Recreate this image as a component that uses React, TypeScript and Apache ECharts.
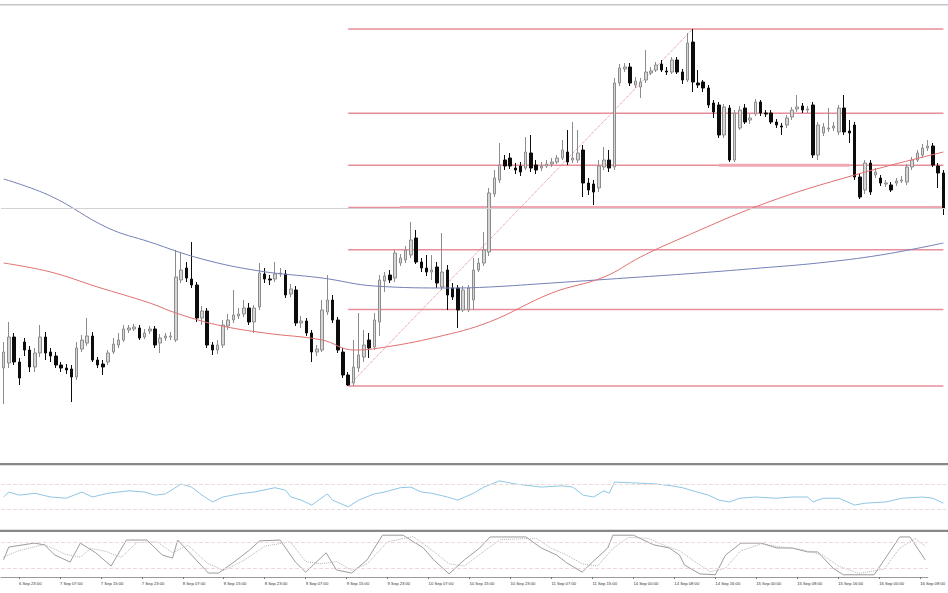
import React, { useEffect, useRef } from "react";
import * as echarts from "echarts";

// Hourly sessions shown on the chart: [day of Sep, first hour, last hour]
const sessions: number[][] = [
  [6, 20, 23], [7, 0, 23], [8, 0, 23], [9, 0, 23], [10, 0, 23], [11, 0, 22],
  [14, 0, 23], [15, 0, 23], [16, 0, 9],
];
const categories: string[] = [];
sessions.forEach(([d, a, b]) => {
  for (let h = a; h <= b; h++) categories.push(`${d} Sep ${String(h).padStart(2, "0")}:00`);
});

// [open, close, low, high]
const ohlc: number[][] = [
  [1.1132, 1.1148, 1.1096, 1.1158], [1.1137, 1.1163, 1.1132, 1.1178], [1.1163, 1.1138, 1.1135, 1.1167],
  [1.1138, 1.1122, 1.1115, 1.1142], [1.1158, 1.1150, 1.1144, 1.1162], [1.1150, 1.1133, 1.1128, 1.1154],
  [1.1133, 1.1147, 1.1128, 1.1152], [1.1147, 1.1163, 1.1143, 1.1175], [1.1163, 1.1147, 1.1140, 1.1168],
  [1.1148, 1.1144, 1.1138, 1.1152], [1.1144, 1.1135, 1.1132, 1.1148], [1.1135, 1.1132, 1.1128, 1.1138],
  [1.1132, 1.1130, 1.1126, 1.1136], [1.1131, 1.1123, 1.1098, 1.1135], [1.1123, 1.1152, 1.1120, 1.1158],
  [1.1151, 1.1160, 1.1148, 1.1165], [1.1157, 1.1164, 1.1154, 1.1182], [1.1164, 1.1140, 1.1138, 1.1168],
  [1.1140, 1.1135, 1.1132, 1.1143], [1.1136, 1.1133, 1.1125, 1.1140], [1.1138, 1.1147, 1.1135, 1.1150],
  [1.1148, 1.1156, 1.1146, 1.1162], [1.1155, 1.1160, 1.1152, 1.1167], [1.1160, 1.1171, 1.1158, 1.1175],
  [1.1170, 1.1172, 1.1167, 1.1175], [1.1171, 1.1173, 1.1169, 1.1176], [1.1172, 1.1162, 1.1160, 1.1175],
  [1.1163, 1.1167, 1.1161, 1.1171], [1.1169, 1.1171, 1.1166, 1.1174], [1.1171, 1.1155, 1.1152, 1.1174],
  [1.1157, 1.1162, 1.1147, 1.1166], [1.1162, 1.1164, 1.1159, 1.1167], [1.1163, 1.1164, 1.1160, 1.1168],
  [1.1160, 1.1223, 1.1158, 1.1250], [1.1220, 1.1230, 1.1217, 1.1248], [1.1232, 1.1222, 1.1218, 1.1238],
  [1.1221, 1.1215, 1.1212, 1.1258], [1.1215, 1.1182, 1.1178, 1.1218], [1.1182, 1.1189, 1.1175, 1.1194],
  [1.1189, 1.1155, 1.1152, 1.1192], [1.1155, 1.1150, 1.1145, 1.1158], [1.1150, 1.1155, 1.1146, 1.1160],
  [1.1155, 1.1175, 1.1152, 1.1180], [1.1174, 1.1180, 1.1170, 1.1186], [1.1180, 1.1185, 1.1177, 1.1210],
  [1.1184, 1.1186, 1.1181, 1.1192], [1.1186, 1.1192, 1.1183, 1.1200], [1.1192, 1.1178, 1.1175, 1.1197],
  [1.1178, 1.1192, 1.1167, 1.1195], [1.1193, 1.1227, 1.1190, 1.1237], [1.1226, 1.1221, 1.1217, 1.1232],
  [1.1221, 1.1220, 1.1215, 1.1225], [1.1221, 1.1226, 1.1218, 1.1238], [1.1226, 1.1227, 1.1223, 1.1232],
  [1.1226, 1.1205, 1.1202, 1.1230], [1.1206, 1.1211, 1.1203, 1.1216], [1.1210, 1.1177, 1.1174, 1.1214],
  [1.1177, 1.1179, 1.1172, 1.1184], [1.1179, 1.1167, 1.1164, 1.1182], [1.1167, 1.1148, 1.1138, 1.1170],
  [1.1148, 1.1151, 1.1144, 1.1155], [1.1150, 1.1190, 1.1148, 1.1200], [1.1188, 1.1200, 1.1185, 1.1225],
  [1.1200, 1.1180, 1.1177, 1.1205], [1.1180, 1.1150, 1.1147, 1.1183], [1.1148, 1.1125, 1.1122, 1.1152],
  [1.1125, 1.1115, 1.1114, 1.1128], [1.1117, 1.1133, 1.1114, 1.1160], [1.1132, 1.1145, 1.1128, 1.1187],
  [1.1143, 1.1155, 1.1138, 1.1170], [1.1160, 1.1152, 1.1142, 1.1167], [1.1153, 1.1180, 1.1150, 1.1187],
  [1.1178, 1.1220, 1.1164, 1.1225], [1.1219, 1.1224, 1.1208, 1.1228], [1.1225, 1.1220, 1.1217, 1.1230],
  [1.1222, 1.1247, 1.1218, 1.1250], [1.1237, 1.1242, 1.1234, 1.1246], [1.1240, 1.1250, 1.1237, 1.1254],
  [1.1245, 1.1260, 1.1242, 1.1278], [1.1262, 1.1238, 1.1236, 1.1270], [1.1238, 1.1232, 1.1228, 1.1242],
  [1.1232, 1.1228, 1.1224, 1.1245], [1.1228, 1.1230, 1.1220, 1.1245], [1.1233, 1.1217, 1.1212, 1.1238],
  [1.1213, 1.1228, 1.1210, 1.1267], [1.1230, 1.1205, 1.1190, 1.1235], [1.1212, 1.1203, 1.1200, 1.1217],
  [1.1212, 1.1190, 1.1172, 1.1215], [1.1190, 1.1210, 1.1188, 1.1214], [1.1190, 1.1212, 1.1188, 1.1215],
  [1.1200, 1.1230, 1.1190, 1.1242], [1.1230, 1.1237, 1.1228, 1.1242], [1.1237, 1.1250, 1.1234, 1.1268],
  [1.1248, 1.1307, 1.1244, 1.1312], [1.1306, 1.1322, 1.1303, 1.1330], [1.1320, 1.1335, 1.1317, 1.1357],
  [1.1340, 1.1334, 1.1330, 1.1345], [1.1342, 1.1334, 1.1331, 1.1347], [1.1332, 1.1330, 1.1326, 1.1337],
  [1.1334, 1.1328, 1.1324, 1.1338], [1.1332, 1.1348, 1.1330, 1.1363], [1.1347, 1.1332, 1.1328, 1.1365],
  [1.1335, 1.1330, 1.1326, 1.1340], [1.1332, 1.1334, 1.1329, 1.1338], [1.1334, 1.1336, 1.1332, 1.1340],
  [1.1336, 1.1338, 1.1333, 1.1342], [1.1338, 1.1342, 1.1336, 1.1345], [1.1342, 1.1350, 1.1340, 1.1360],
  [1.1348, 1.1338, 1.1335, 1.1370], [1.1340, 1.1342, 1.1337, 1.1378], [1.1340, 1.1347, 1.1337, 1.1370],
  [1.1350, 1.1317, 1.1303, 1.1355], [1.1317, 1.1310, 1.1305, 1.1322], [1.1316, 1.1308, 1.1295, 1.1320],
  [1.1312, 1.1334, 1.1308, 1.1340], [1.1333, 1.1340, 1.1330, 1.1353], [1.1340, 1.1332, 1.1328, 1.1350],
  [1.1333, 1.1417, 1.1330, 1.1422], [1.1417, 1.1432, 1.1414, 1.1436], [1.1431, 1.1433, 1.1428, 1.1437],
  [1.1433, 1.1417, 1.1414, 1.1437], [1.1415, 1.1419, 1.1412, 1.1423], [1.1413, 1.1418, 1.1402, 1.1422],
  [1.1420, 1.1428, 1.1417, 1.1450], [1.1427, 1.1429, 1.1425, 1.1433], [1.1430, 1.1435, 1.1428, 1.1438],
  [1.1436, 1.1430, 1.1428, 1.1440], [1.1429, 1.1428, 1.1425, 1.1433], [1.1428, 1.1440, 1.1426, 1.1443],
  [1.1440, 1.1428, 1.1426, 1.1443], [1.1428, 1.1420, 1.1416, 1.1431], [1.1420, 1.1457, 1.1418, 1.1467],
  [1.1458, 1.1418, 1.1408, 1.1471], [1.1417, 1.1415, 1.1412, 1.1430], [1.1418, 1.1412, 1.1408, 1.1420],
  [1.1412, 1.1395, 1.1392, 1.1415], [1.1397, 1.1388, 1.1382, 1.1400], [1.1395, 1.1365, 1.1362, 1.1398],
  [1.1365, 1.1393, 1.1362, 1.1396], [1.1392, 1.1340, 1.1338, 1.1395], [1.1340, 1.1387, 1.1338, 1.1390],
  [1.1372, 1.1390, 1.1370, 1.1394], [1.1392, 1.1378, 1.1376, 1.1396], [1.1380, 1.1382, 1.1376, 1.1386],
  [1.1386, 1.1398, 1.1384, 1.1401], [1.1398, 1.1387, 1.1384, 1.1400], [1.1387, 1.1386, 1.1383, 1.1390],
  [1.1387, 1.1378, 1.1376, 1.1390], [1.1378, 1.1375, 1.1372, 1.1381], [1.1374, 1.1373, 1.1365, 1.1377],
  [1.1375, 1.1382, 1.1372, 1.1385], [1.1383, 1.1390, 1.1380, 1.1393], [1.1391, 1.1393, 1.1388, 1.1405],
  [1.1394, 1.1390, 1.1387, 1.1397], [1.1390, 1.1391, 1.1387, 1.1394], [1.1395, 1.1345, 1.1342, 1.1398],
  [1.1345, 1.1375, 1.1340, 1.1378], [1.1367, 1.1373, 1.1364, 1.1377], [1.1371, 1.1372, 1.1368, 1.1392],
  [1.1372, 1.1374, 1.1369, 1.1378], [1.1368, 1.1392, 1.1365, 1.1395], [1.1392, 1.1368, 1.1365, 1.1405],
  [1.1369, 1.1367, 1.1357, 1.1380], [1.1375, 1.1323, 1.1320, 1.1378], [1.1323, 1.1303, 1.1301, 1.1326],
  [1.1310, 1.1337, 1.1306, 1.1340], [1.1337, 1.1308, 1.1305, 1.1340], [1.1325, 1.1328, 1.1322, 1.1332],
  [1.1322, 1.1317, 1.1314, 1.1325], [1.1316, 1.1317, 1.1313, 1.1320], [1.1315, 1.1310, 1.1308, 1.1318],
  [1.1317, 1.1319, 1.1314, 1.1322], [1.1319, 1.1320, 1.1317, 1.1324], [1.1318, 1.1333, 1.1315, 1.1336],
  [1.1333, 1.1340, 1.1330, 1.1343], [1.1340, 1.1347, 1.1338, 1.1350], [1.1345, 1.1352, 1.1342, 1.1356],
  [1.1352, 1.1354, 1.1349, 1.1360], [1.1354, 1.1335, 1.1333, 1.1357], [1.1334, 1.1327, 1.1312, 1.1337],
  [1.1327, 1.1292, 1.1285, 1.1330],
];

// Moving averages read at points: [bar index, price]
const maSlow: number[][] = [
  [0, 1.1321], [9, 1.1304], [20, 1.1272], [28, 1.1258], [38, 1.1241], [49, 1.1229],
  [61, 1.1222], [71, 1.1214], [86, 1.1212], [93, 1.1213], [105, 1.1217], [122, 1.1223], [133, 1.1227],
  [145, 1.1232], [156, 1.1237], [168, 1.1245], [180, 1.1257],
];
const maFast: number[][] = [
  [0, 1.1237], [9, 1.1228], [18, 1.1213], [28, 1.1197], [33, 1.1187], [41, 1.1175], [50, 1.1167],
  [61, 1.1160], [67, 1.1150], [72, 1.1152], [83, 1.1163], [93, 1.1178], [105, 1.1207], [115, 1.1223],
  [122, 1.1243], [129, 1.1260], [146, 1.1297], [163, 1.1325], [180, 1.1348],
];

// RSI read at points: [bar index, value]
const rsi: number[][] = [
  [0, 50], [1, 58], [3, 53], [6, 56], [9, 50], [12, 48], [15, 58], [17, 50], [20, 56], [24, 60],
  [27, 58], [29, 53], [31, 55], [34, 71], [36, 66], [38, 53], [40, 42], [42, 50], [45, 55], [48, 58],
  [52, 65], [54, 61], [55, 50], [57, 45], [59, 37], [62, 55], [63, 45], [66, 34], [68, 45], [71, 55],
  [73, 58], [76, 65], [78, 66], [80, 58], [82, 56], [85, 50], [87, 45], [90, 56], [92, 66], [95, 76],
  [98, 71], [103, 66], [107, 68], [109, 66], [111, 53], [113, 50], [115, 60], [116, 56], [117, 74],
  [120, 73], [125, 71], [128, 68], [130, 65], [132, 60], [135, 53], [137, 45], [139, 42], [141, 48],
  [144, 50], [148, 48], [151, 50], [154, 50], [155, 42], [157, 48], [160, 48], [163, 37], [165, 40],
  [169, 42], [172, 48], [176, 50], [178, 48], [180, 40],
];

// Stochastic read at points: [bar index, value]
const stochMain: number[][] = [
  [0, 39], [1, 68], [6, 77], [8, 73], [10, 50], [13, 34], [15, 77], [18, 55], [21, 25], [24, 84],
  [28, 84], [31, 50], [33, 43], [34, 84], [38, 34], [40, 9], [42, 9], [45, 34], [48, 61], [50, 82],
  [54, 84], [57, 34], [59, 11], [63, 55], [65, 16], [68, 9], [71, 39], [74, 95], [78, 95], [82, 66],
  [84, 39], [87, 7], [90, 39], [93, 66], [95, 91], [102, 91], [105, 66], [108, 50], [110, 32],
  [113, 11], [115, 34], [118, 66], [119, 95], [123, 95], [127, 73], [130, 66], [132, 50], [133, 27],
  [136, 7], [139, 5], [141, 50], [144, 77], [148, 77], [151, 66], [154, 66], [157, 57], [159, 57],
  [162, 20], [164, 5], [170, 5], [172, 39], [175, 91], [177, 91], [180, 39],
];
const stochSignal: number[][] = [
  [0, 45], [3, 60], [8, 74], [12, 52], [15, 45], [17, 65], [20, 58], [23, 45], [26, 78], [30, 80],
  [33, 55], [36, 72], [40, 30], [43, 15], [47, 38], [51, 70], [56, 80], [59, 35], [62, 30], [65, 35],
  [68, 15], [71, 30], [75, 80], [80, 92], [84, 58], [87, 30], [90, 25], [94, 60], [97, 85], [104, 88],
  [107, 65], [110, 50], [113, 30], [116, 25], [119, 65], [122, 90], [126, 88], [129, 72], [132, 60],
  [135, 35], [138, 12], [141, 20], [144, 60], [148, 75], [152, 68], [156, 62], [160, 50], [163, 25],
  [167, 8], [172, 18], [175, 65], [178, 88], [180, 70],
];

// Fibonacci retracement anchors (swing low bar/price, swing high bar/price)
const fibLow = { bar: 66, price: 1.1114 };
const fibHigh = { bar: 132, price: 1.1471 };
const fibRatios = [0, 0.236, 0.382, 0.5, 0.618, 0.786, 1];
// Highlighted support/resistance segments: [ratio, first bar, last bar]
const zones: number[][] = [[0.5, 76, 180], [0.382, 137, 162]];
const referenceLine = 1.1292;
const rsiLevels = [70, 30];
const stochLevels = [80, 20];

const lastBar = categories.length - 1;
const showTick = (i: number) => i >= 3 && (i - 3) % 8 === 0;

export default function App() {
  const ref = useRef<HTMLDivElement>(null);
  useEffect(() => {
    document.body.style.margin = "0";
    if (!ref.current) return;
    const chart = echarts.init(ref.current, undefined, { renderer: "svg" });
    const fibPrice = (r: number) => fibHigh.price - r * (fibHigh.price - fibLow.price);
    const fibColor = "#e88e9a";
    const levelStyle = { color: "#ecd9d9", width: 1, type: "dashed" as const };

    const xAxes = [0, 1, 2].map((g) => ({
      type: "category" as const,
      gridIndex: g,
      data: categories,
      boundaryGap: true,
      axisLine: { show: g === 2, lineStyle: { color: "#9a9a9a", width: 1 } },
      axisTick: { show: g === 2, interval: showTick, alignWithLabel: true, length: 2, lineStyle: { color: "#777" } },
      axisLabel: {
        show: g === 2, interval: showTick, align: "left" as const, fontSize: 4.2,
        fontFamily: "Liberation Sans, Arial, sans-serif", color: "#333", margin: 4,
      },
      splitLine: { show: false },
    }));

    const segment = (data: number[][], color: string, width: number, type: string, z = 1) => ({
      type: "line", xAxisIndex: 0, yAxisIndex: 0, data, symbol: "none", silent: true, z,
      color, lineStyle: { color, width, type, opacity: 1 },
    });

    chart.setOption({
      animation: false,
      backgroundColor: "#ffffff",
      grid: [
        { left: 1, width: 945, top: 6, height: 457 },
        { left: 1, width: 945, top: 466, height: 62 },
        { left: 1, width: 945, top: 533, height: 44 },
      ],
      xAxis: xAxes,
      yAxis: [
        { gridIndex: 0, min: 1.1037, max: 1.1494, show: false },
        { gridIndex: 1, min: 0, max: 100, show: false },
        { gridIndex: 2, min: 0, max: 100, show: false },
      ],
      graphic: [
        { type: "rect", shape: { x: 0, y: 4, width: 948, height: 1.5 }, style: { fill: "#c3c6ca" }, z: 100 },
        { type: "rect", shape: { x: 0, y: 463, width: 948, height: 2.2 }, style: { fill: "#878787" }, z: 100 },
        { type: "rect", shape: { x: 0, y: 529.8, width: 948, height: 2.2 }, style: { fill: "#878787" }, z: 100 },
      ],
      series: [
        ...fibRatios.map((r) => segment([[fibLow.bar, fibPrice(r)], [lastBar, fibPrice(r)]], fibColor, 1.5, "solid")),
        ...zones.map(([r, a, b]) => segment([[a, fibPrice(r)], [b, fibPrice(r)]], "#f1a7b3", 3, "solid")),
        segment([[fibLow.bar, fibLow.price], [fibHigh.bar, fibHigh.price]], "#e3808a", 1, "dotted"),
        {
          type: "candlestick",
          xAxisIndex: 0, yAxisIndex: 0,
          data: ohlc,
          barWidth: 3,
          z: 3,
          itemStyle: { color: "#d6d6d6", color0: "#0c0c0c", borderColor: "#8c8c8c", borderColor0: "#0c0c0c", borderWidth: 1 },
        },
        {
          type: "line", xAxisIndex: 0, yAxisIndex: 0, data: maSlow, smooth: 0.4, symbol: "none",
          lineStyle: { color: "#7480b8", width: 1 }, z: 4,
          markLine: {
            silent: true, symbol: ["none", "none"], label: { show: false }, precision: 5,
            lineStyle: { color: "#d2d2d2", width: 1, type: "solid" },
            data: [{ yAxis: referenceLine }],
          },
        },
        {
          type: "line", xAxisIndex: 0, yAxisIndex: 0, data: maFast, smooth: 0.4, symbol: "none",
          lineStyle: { color: "#e07070", width: 1 }, z: 4,
        },
        {
          type: "line", xAxisIndex: 1, yAxisIndex: 1, data: rsi, symbol: "none",
          lineStyle: { color: "#8fc6e4", width: 1 },
          markLine: {
            silent: true, symbol: ["none", "none"], label: { show: false }, precision: 3,
            lineStyle: levelStyle,
            data: rsiLevels.map((v) => ({ yAxis: v })),
          },
        },
        {
          type: "line", xAxisIndex: 2, yAxisIndex: 2, data: stochMain, symbol: "none",
          lineStyle: { color: "#9c9c9c", width: 1 },
          markLine: {
            silent: true, symbol: ["none", "none"], label: { show: false }, precision: 3,
            lineStyle: levelStyle,
            data: stochLevels.map((v) => ({ yAxis: v })),
          },
        },
        {
          type: "line", xAxisIndex: 2, yAxisIndex: 2, data: stochSignal, symbol: "none",
          lineStyle: { color: "#b4b4b4", width: 1, type: "dotted" },
        },
      ],
    });
    return () => chart.dispose();
  }, []);
  return <div ref={ref} style={{ width: 948, height: 593 }} />;
}
